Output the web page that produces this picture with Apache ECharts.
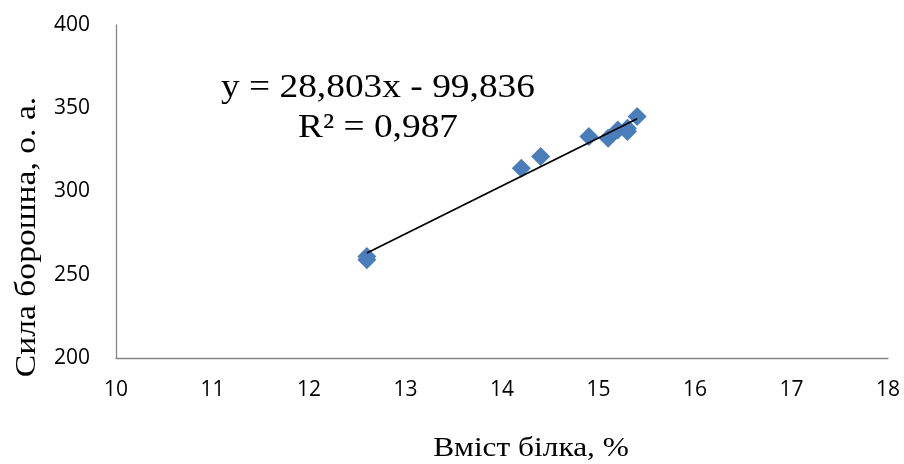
<!DOCTYPE html>
<html>
<head>
<meta charset="utf-8">
<script src="https://cdn.jsdelivr.net/npm/echarts@6/dist/echarts.min.js"></script>
<style>html,body{margin:0;padding:0;background:#fff}#c{width:904px;height:464px}</style>
</head>
<body>
<div id="c"></div>
<script>
const proteinX = [12.6, 12.6, 14.2, 14.4, 14.9, 15.1, 15.2, 15.3, 15.3, 15.4];
const strengthY = [261, 259, 314, 321, 333, 332, 337, 336, 338, 345];
const trendSlope = 28.803;
const trendIntercept = -99.836;
const xTicks = [10, 11, 12, 13, 14, 15, 16, 17, 18];
const yTicks = [200, 250, 300, 350, 400];
const eqLine1 = 'y = 28,803x - 99,836';
const eqLine2 = 'R² = 0,987';
const xTitle = 'Вміст білка, %';
const yTitle = 'Сила борошна, о. а.';

const pts = proteinX.map((x, i) => [x, strengthY[i]]);
const xmin = Math.min(...proteinX), xmax = Math.max(...proteinX);
const trend = [[xmin, trendSlope * xmin + trendIntercept], [xmax, trendSlope * xmax + trendIntercept]];

const chart = echarts.init(document.getElementById('c'), null, {renderer: 'canvas'});
const axisLine = {show: true, lineStyle: {color: '#868686', width: 1.3}};
const tickFont = {color: '#000', fontFamily: 'Open Sans', fontSize: 21};
chart.setOption({
  animation: false,
  grid: {left: 116, right: 16, top: 25, bottom: 106, containLabel: false, outerBoundsMode: 'none'},
  xAxis: {
    type: 'value', min: xTicks[0], max: xTicks[xTicks.length - 1], interval: 1,
    axisLine: axisLine, axisTick: {show: false}, splitLine: {show: false},
    axisLabel: Object.assign({margin: 22}, tickFont)
  },
  yAxis: {
    type: 'value', min: yTicks[0], max: yTicks[yTicks.length - 1], interval: 50,
    axisLine: axisLine, axisTick: {show: false}, splitLine: {show: false},
    axisLabel: Object.assign({margin: 26}, tickFont)
  },
  series: [
    {
      type: 'scatter', data: pts, symbol: 'diamond', symbolSize: [19, 19],
      itemStyle: {color: '#4A7EBB', opacity: 1}, z: 2
    },
    {
      type: 'line', data: trend, symbol: 'none',
      lineStyle: {color: '#000', width: 1.8}, z: 3
    }
  ],
  graphic: [
    {type: 'text', x: 378, y: 71, scaleX: 1.1,
     style: {text: eqLine1, font: '34px "Liberation Serif"', fill: '#000', align: 'center', verticalAlign: 'top'}},
    {type: 'text', x: 378, y: 111, scaleX: 1.1,
     style: {text: eqLine2, font: '34px "Liberation Serif"', fill: '#000', align: 'center', verticalAlign: 'top'}},
    {type: 'text', x: 531, y: 435, scaleX: 1.12,
     style: {text: xTitle, font: '28px "Liberation Serif"', fill: '#000', align: 'center', verticalAlign: 'top'}},
    {type: 'text', x: 27, y: 237, rotation: Math.PI / 2, scaleX: 1.12,
     style: {text: yTitle, font: '30px "Liberation Serif"', fill: '#000', align: 'center', verticalAlign: 'middle'}}
  ]
});
</script>
</body>
</html>
